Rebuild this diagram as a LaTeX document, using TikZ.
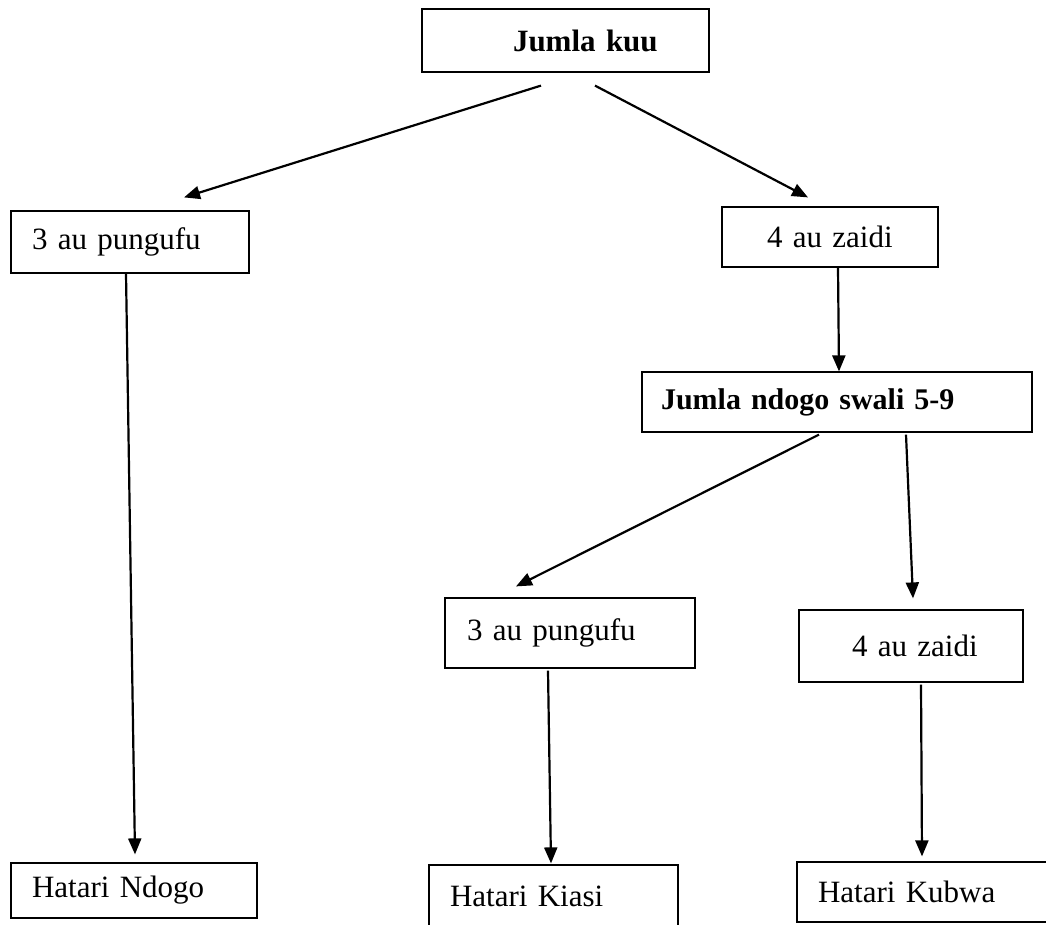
\documentclass[tikz,border=0pt]{standalone}
\usepackage{fontspec}
\setmainfont{Liberation Serif}
\usetikzlibrary{arrows.meta}
\tikzset{
  box/.style = {draw = black, line width = 1.2pt, inner xsep = 0pt, inner ysep = 0pt, align = left, font = \fontsize{31}{36}\selectfont},
  boldbox/.style = {box, font = \fontsize{31}{36}\selectfont\bfseries},
  arr/.style = {line width = 2.2pt, -{Triangle[length = 16pt, width = 13pt]}}
}
\begin{document}
\begin{tikzpicture}[x = 1pt, y = -1pt]
\useasboundingbox (0,0) rectangle (1046,924);
\clip (0,0) rectangle (1046,924);
\node[boldbox, text width = 287pt, minimum height = 63pt] (kuu) at (565.5,40.5) {\hspace*{91pt}Jumla kuu};
\node[box, text width = 238pt, minimum height = 62pt] (pungufuA) at (130,242) {\hspace*{21pt}3 au pungufu};
\node[box, text width = 216pt, minimum height = 60pt] (zaidiA) at (830,237) {\hspace*{45pt}4 au zaidi};
\node[boldbox, text width = 390pt, minimum height = 60pt, font = \fontsize{30}{35}\selectfont\bfseries] (ndogo) at (837,402) {\hspace*{19pt}Jumla ndogo swali 5-9};
\node[box, text width = 250pt, minimum height = 70pt] (pungufuB) at (570,633) {\hspace*{22pt}3 au pungufu};
\node[box, text width = 224pt, minimum height = 72pt] (zaidiB) at (911,646) {\hspace*{53pt}4 au zaidi};
\node[box, text width = 246pt, minimum height = 55pt] (hNdogo) at (134,890.5) {\hspace*{21pt}Hatari Ndogo};
\node[box, text width = 249pt, minimum height = 62pt] (hKiasi) at (553.5,896) {\hspace*{21pt}Hatari Kiasi};
\node[box, text width = 263pt, minimum height = 60pt] (hKubwa) at (928.5,892) {\hspace*{21pt}Hatari Kubwa};
\draw[arr] ([xshift = -24.5pt, yshift = -13pt]kuu.south) -- ([xshift = 54pt, yshift = 13pt]pungufuA.north);
\draw[arr] ([xshift = 29.5pt, yshift = -13pt]kuu.south) -- ([xshift = -22pt, yshift = 9pt]zaidiA.north);
\draw[arr] ([xshift = -4pt]pungufuA.south) -- ([xshift = 1pt, yshift = 8pt]hNdogo.north);
\draw[arr] ([xshift = 8pt]zaidiA.south) -- ([xshift = 2pt]ndogo.north);
\draw[arr] ([xshift = -18pt, yshift = -2pt]ndogo.south) -- ([xshift = -54pt, yshift = 11pt]pungufuB.north);
\draw[arr] ([xshift = 69pt, yshift = -2pt]ndogo.south) -- ([xshift = 2pt, yshift = 11pt]zaidiB.north);
\draw[arr] ([xshift = -22pt, yshift = -2pt]pungufuB.south) -- ([xshift = -2.5pt, yshift = 1pt]hKiasi.north);
\draw[arr] ([xshift = 10pt, yshift = -2pt]zaidiB.south) -- ([xshift = -6.5pt, yshift = 5pt]hKubwa.north);
\end{tikzpicture}
\end{document}
